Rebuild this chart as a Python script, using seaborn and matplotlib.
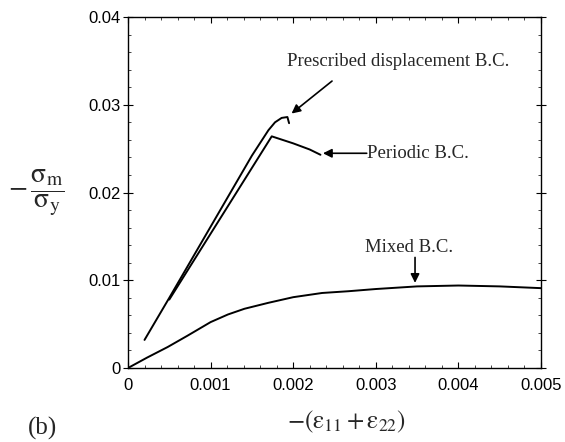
import numpy as np
import pandas as pd
import seaborn as sns
import matplotlib
matplotlib.use("Agg")
import matplotlib.pyplot as plt
from matplotlib.ticker import MultipleLocator

# curves: strain -(e11+e22) vs -sigma_m/sigma_y
prescribed_x = [0.0002, 0.0005, 0.0010, 0.0015, 0.00170, 0.00178, 0.00186, 0.00193, 0.00195]
prescribed_y = [0.0032, 0.0080, 0.0161, 0.0242, 0.0271, 0.0280, 0.0285, 0.0286, 0.0279]

periodic_x = [0.0005, 0.0010, 0.0015, 0.00174, 0.0020, 0.0022, 0.00233]
periodic_y = [0.0078, 0.0153, 0.0228, 0.0264, 0.0256, 0.0249, 0.0243]

mixed_x = [0.0, 0.00023, 0.00048, 0.00072, 0.0010, 0.00121, 0.00141, 0.0017,
           0.0020, 0.00235, 0.00267, 0.0030, 0.0035, 0.0040, 0.0045, 0.0050]
mixed_y = [0.0, 0.00118, 0.00239, 0.00368, 0.00523, 0.0061, 0.00675, 0.00743,
           0.00807, 0.00855, 0.00875, 0.0090, 0.0093, 0.0094, 0.0093, 0.0091]

x_ticks = [0, 0.001, 0.002, 0.003, 0.004, 0.005]
x_tick_labels = ["0", "0.001", "0.002", "0.003", "0.004", "0.005"]
y_ticks = [0, 0.01, 0.02, 0.03, 0.04]
y_tick_labels = ["0", "0.01", "0.02", "0.03", "0.04"]

sns.set_theme(style="ticks")
plt.rcParams["font.family"] = ["Liberation Sans", "DejaVu Sans"]
plt.rcParams["mathtext.fontset"] = "stix"

fig = plt.figure(figsize=(5.65, 4.42), dpi=100)
ax = fig.add_axes([128 / 565, 1 - 368 / 442, 413 / 565, 351 / 442])

for xs, ys in [(prescribed_x, prescribed_y), (periodic_x, periodic_y), (mixed_x, mixed_y)]:
    df = pd.DataFrame({"x": xs, "y": ys})
    sns.lineplot(data=df, x="x", y="y", sort=False, estimator=None,
                 color="black", linewidth=1.4, ax=ax)

ax.set_xlim(0, 0.005)
ax.set_ylim(0, 0.04)
ax.set_xticks(x_ticks)
ax.set_xticklabels(x_tick_labels)
ax.set_yticks(y_ticks)
ax.set_yticklabels(y_tick_labels)
ax.xaxis.set_minor_locator(MultipleLocator(0.0002))
ax.yaxis.set_minor_locator(MultipleLocator(0.002))

ax.tick_params(axis="x", which="major", direction="in", length=4.5, width=0.8,
               top=True, bottom=True, labelsize=12, pad=7, colors="black")
ax.tick_params(axis="x", which="minor", direction="in", length=2.2, width=0.6,
               top=True, bottom=True)
ax.tick_params(axis="y", which="major", direction="inout", length=7, width=0.8,
               left=True, right=True, labelsize=12, pad=2, colors="black")
ax.tick_params(axis="y", which="minor", direction="in", length=2.2, width=0.6,
               left=True, right=True)
for sp in ax.spines.values():
    sp.set_visible(True)
    sp.set_linewidth(1.0)
    sp.set_color("black")

ax.set_xlabel(r"$-(\mathrm{ε}_{11}+\mathrm{ε}_{22})$", fontsize=18)
ax.xaxis.set_label_coords(0.528, -0.154)
ax.xaxis.label.set_va("center")
ax.set_ylabel(r"$\mathrm{-}\,\dfrac{\mathrm{σ_m}}{\mathrm{σ_y}}$", fontsize=20, rotation=0)
ax.yaxis.set_label_coords(-0.222, 0.5)
ax.yaxis.label.set_va("center")
ax.yaxis.label.set_ha("center")

serif = ["Liberation Serif", "DejaVu Serif"]
arrow = dict(arrowstyle="-|>", color="black", lw=1.2, mutation_scale=13,
             shrinkA=0, shrinkB=0)

ax.text(0.00327, 0.0349, "Prescribed displacement B.C.", family=serif,
        fontsize=13.5, ha="center", va="center")
ax.annotate("", xy=(0.00198, 0.0290), xytext=(0.00247, 0.0327), arrowprops=arrow)

ax.text(0.00289, 0.02447, "Periodic B.C.", family=serif,
        fontsize=13.5, ha="left", va="center")
ax.annotate("", xy=(0.00236, 0.02447), xytext=(0.00289, 0.02447), arrowprops=arrow)

ax.text(0.0034, 0.0137, "Mixed B.C.", family=serif,
        fontsize=13.5, ha="center", va="center")
ax.annotate("", xy=(0.003475, 0.0097), xytext=(0.003475, 0.0126), arrowprops=arrow)

fig.text(28 / 565, 2 / 442, "(b)", family=serif, fontsize=18,
         ha="left", va="bottom")

fig.savefig("out.png", dpi=100)
